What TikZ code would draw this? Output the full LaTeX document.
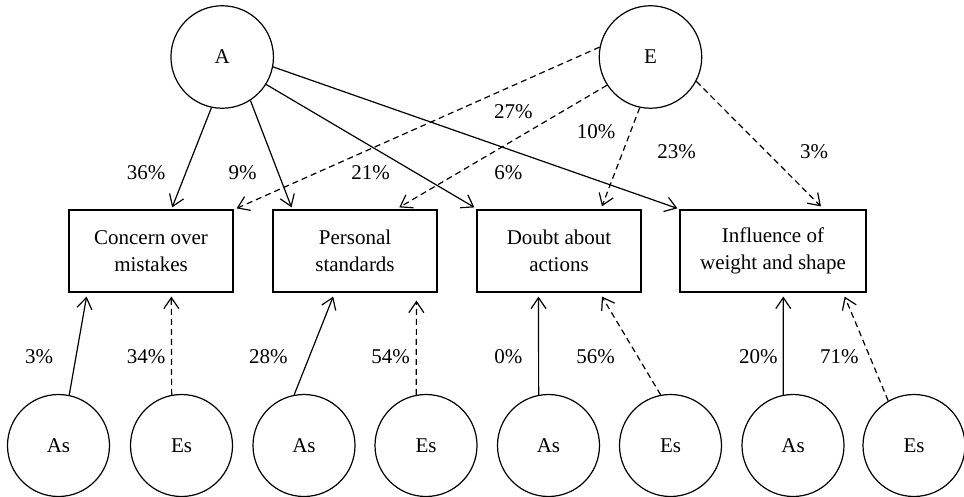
\documentclass[tikz,border=0pt]{standalone}
\usepackage{fontspec}
\setmainfont{Liberation Serif}
\usetikzlibrary{arrows.meta,calc}
\begin{document}
\begin{tikzpicture}[x=1pt,y=-1pt,
  every node/.style={font=\fontsize{21}{27}\selectfont},
  lat/.style={circle,draw,line width=1.2pt,minimum size=102.5pt,inner sep=0pt},
  res/.style={circle,draw,line width=1.2pt,minimum size=102pt,inner sep=0pt},
  obs/.style={rectangle,draw,line width=1.2pt,minimum width=164pt,minimum height=82pt,align=center,inner sep=0pt},
  arr/.style={line width=1.2pt,-{Straight Barb[length=11pt,width=15pt]}},
  darr/.style={arr,dash pattern=on 6pt off 4pt},
  lbl/.style={inner sep=0pt}
]
\useasboundingbox (0,0) rectangle (964,497);

% latent factors
\node[lat] (A) at (222.2,57) {A};
\node[lat] (E) at (650.5,57) {E};

% observed
\node[obs] (c1) at (151,251) {Concern over\\mistakes};
\node[obs] (c2) at (355,251) {Personal\\standards};
\node[obs] (c3) at (559,251) {Doubt about\\actions};
\node[obs,minimum width=186pt] (c4) at (773,251) {Influence of\\weight and shape};

% specific factors
\node[res] (As1) at (58.5,445.5) {As};
\node[res] (Es1) at (181.5,445.5) {Es};
\node[res] (As2) at (304,445.5) {As};
\node[res] (Es2) at (426,445.5) {Es};
\node[res] (As3) at (548.5,445.5) {As};
\node[res] (Es3) at (670.5,445.5) {Es};
\node[res] (As4) at (793,445.5) {As};
\node[res] (Es4) at (914,445.5) {Es};

% A paths
\draw[arr] (A.258) -- ($(c1.north west)!0.628!(c1.north east)+(0,-2)$);
\draw[arr] (A.303) -- ($(c2.north west)!0.116!(c2.north east)+(0,-2)$);
\draw[arr] (A.328) -- ($(c3.north west)+(-2,-2)$);
\draw[arr] (A.349) -- ($(c4.north west)+(-2,-1)$);

% E paths
\draw[darr] (E.169) -- ($(c1.north east)+(3,-1)$);
\draw[darr] (E.213) -- ($(c2.north west)!0.768!(c2.north east)+(0,-2)$);
\draw[darr] (E.258) -- ($(c3.north west)!0.76!(c3.north east)+(0,-3)$);
\draw[darr] (E.332) -- ($(c4.north west)!0.756!(c4.north east)+(0,-3)$);

% specific paths
\draw[arr]  (As1.78)  -- ($(c1.south west)!0.11!(c1.south east)+(0,4)$);
\draw[darr] (Es1.101) -- ($(c1.south west)!0.623!(c1.south east)+(0,4)$);
\draw[arr]  (As2.101) -- ($(c2.south west)!0.368!(c2.south east)+(0,4)$);
\draw[darr] (Es2.101) -- ($(c2.south west)!0.872!(c2.south east)+(0,8)$);
\draw[arr]  (As3.101) -- ($(c3.south west)!0.376!(c3.south east)+(0,4)$);
\draw[darr] (Es3.101) -- ($(c3.south west)!0.76!(c3.south east)+(0,4)$);
\draw[arr]  (As4.101) -- ($(c4.south west)!0.555!(c4.south east)+(0,4)$);
\draw[darr] (Es4.120) -- ($(c4.south west)!0.883!(c4.south east)+(0,4)$);

% labels top
\node[lbl] (l36) at (146,172.7) {36\%};
\node[lbl] (l9)  at (242.7,172.7) {9\%};
\node[lbl] (l21) at (370.7,172.7) {21\%};
\node[lbl] (l27) at (513.3,111.7) {27\%};
\node[lbl] (l10) at (596,131.7) {10\%};
\node[lbl] (l6)  at (508.3,172.7) {6\%};
\node[lbl] (l23) at (676.7,151.7) {23\%};
\node[lbl] (l3t) at (814,151.7) {3\%};

% labels bottom
\node[lbl] (l3)  at (39,356.7) {3\%};
\node[lbl] (l34) at (146,356.7) {34\%};
\node[lbl] (l28) at (268.3,356.7) {28\%};
\node[lbl] (l54) at (390.7,356.7) {54\%};
\node[lbl] (l0)  at (508.3,356.7) {0\%};
\node[lbl] (l56) at (595.7,356.7) {56\%};
\node[lbl] (l20) at (758.3,356.7) {20\%};
\node[lbl] (l71) at (839.3,356.7) {71\%};
\end{tikzpicture}
\end{document}
